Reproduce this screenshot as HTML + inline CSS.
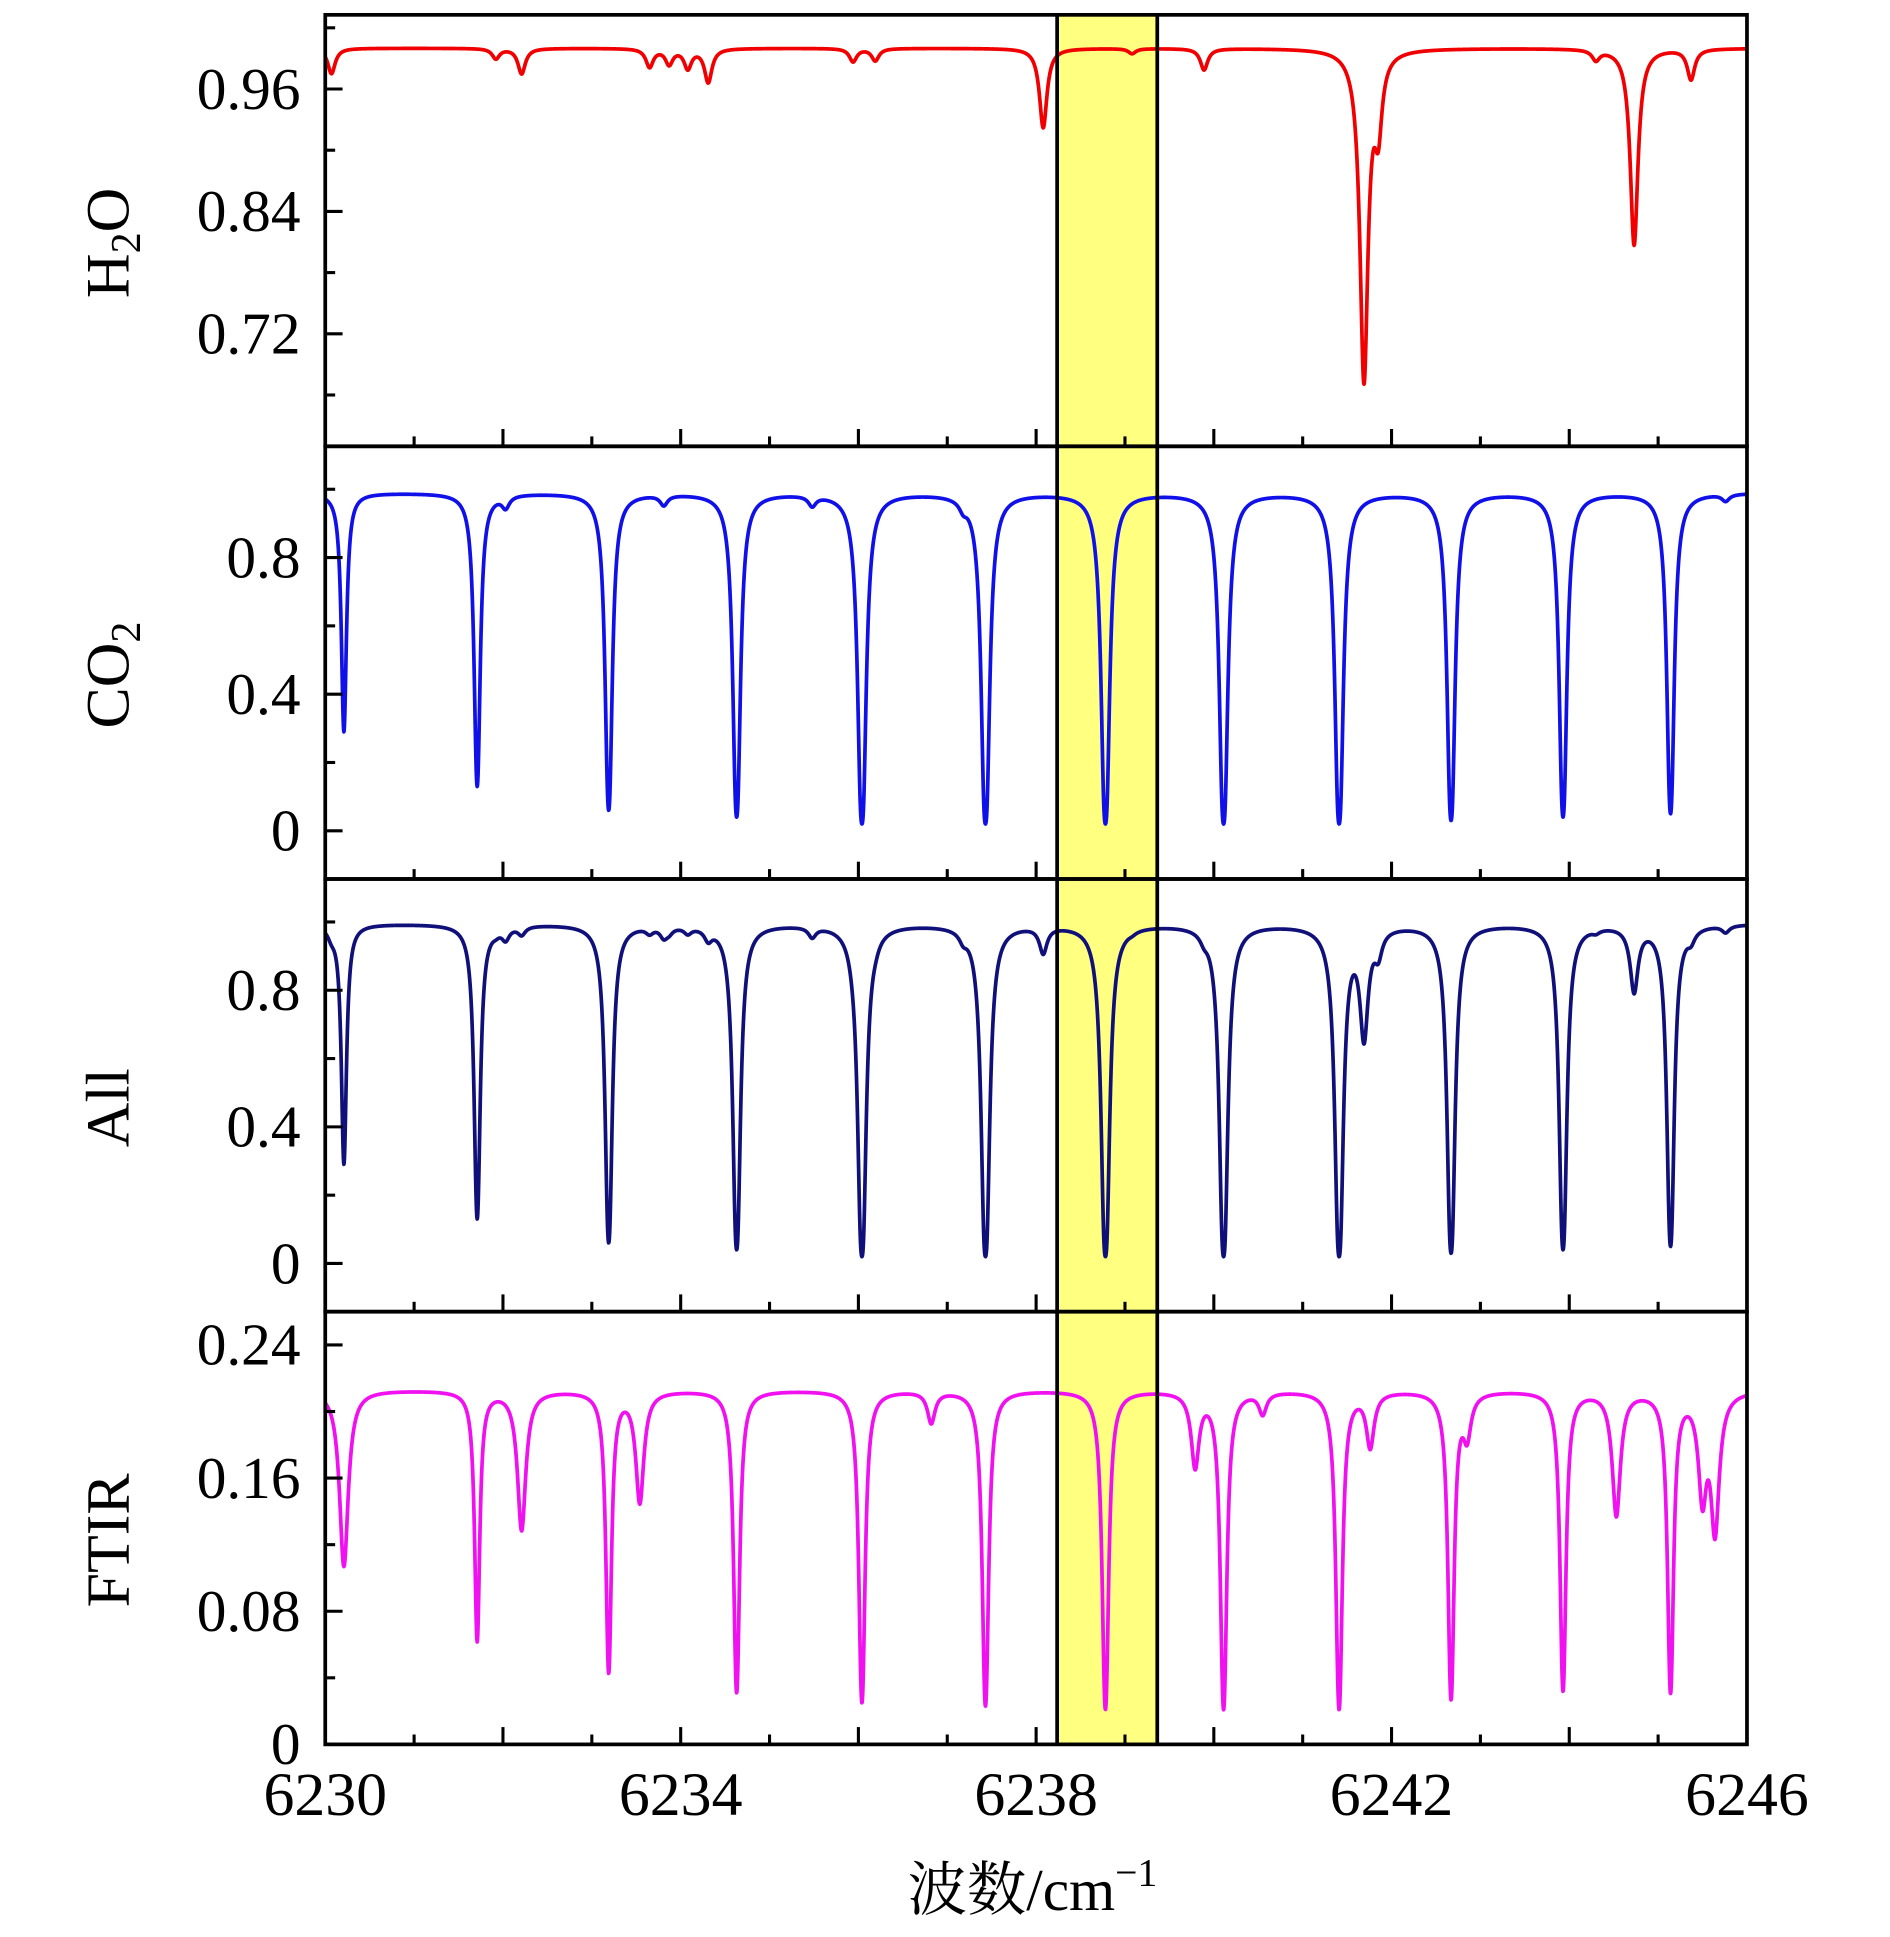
<!DOCTYPE html>
<html><head><meta charset="utf-8">
<style>
html,body{margin:0;padding:0;background:#fff;}
svg{display:block;}
text{font-family:"Liberation Serif","Noto Serif CJK SC",serif;fill:#000;}
</style></head>
<body>
<svg id="chart" width="1890" height="1937" viewBox="0 0 1528.6 1566.8" xmlns="http://www.w3.org/2000/svg">
<defs>
<clipPath id="cp0"><rect x="263" y="12" width="1150" height="349"/></clipPath>
<clipPath id="cp1"><rect x="263" y="361" width="1150" height="350"/></clipPath>
<clipPath id="cp2"><rect x="263" y="711" width="1150" height="350"/></clipPath>
<clipPath id="cp3"><rect x="263" y="1061" width="1150" height="350"/></clipPath>
</defs>
<rect x="855" y="12" width="81" height="1399" fill="#ffff80"/>
<g id="marks"></g>
<g id="axes"></g>
<line x1="855" y1="12" x2="855" y2="1411" stroke="#000" stroke-width="3"/>
<line x1="936" y1="12" x2="936" y2="1411" stroke="#000" stroke-width="3"/>
<text x="835" y="1545" font-size="48" text-anchor="middle">波数/cm<tspan font-size="32" dy="-20">−1</tspan></text>
</svg>
<script>
// ---- data ----
const xTicks = [6230, 6234, 6238, 6242, 6246];
const co2Pos = [6230.21, 6231.71, 6233.19, 6234.63, 6236.04, 6237.43, 6238.78, 6240.11, 6241.41, 6242.67, 6243.93, 6245.14, 6232.03, 6233.81, 6235.48, 6237.18, 6245.76];
const co2Min = [0.29, 0.13, 0.06, 0.04, 0.02, 0.02, 0.02, 0.02, 0.02, 0.03, 0.04, 0.05, 0.955, 0.96, 0.96, 0.965, 0.97];
const co2Base = 0.99;
const h2oPos = [6230.07, 6231.92, 6232.21, 6233.65, 6233.87, 6234.08, 6234.31, 6235.94, 6236.19, 6238.08, 6239.08, 6239.89, 6241.69, 6241.85, 6244.3, 6244.73, 6245.37];
const h2oMin = [0.975, 0.99, 0.975, 0.982, 0.985, 0.981, 0.967, 0.987, 0.988, 0.922, 0.995, 0.979, 0.675, 0.93, 0.99, 0.807, 0.97];
const h2oBase = 1.0;
const ftirPos = [6230.21, 6231.71, 6232.21, 6233.19, 6233.54, 6234.63, 6236.04, 6236.82, 6237.43, 6238.78, 6239.79, 6240.11, 6240.55, 6241.41, 6241.76, 6242.67, 6242.85, 6243.93, 6244.53, 6245.14, 6245.50, 6245.64];
const ftirMin = [0.107, 0.062, 0.129, 0.043, 0.146, 0.031, 0.025, 0.194, 0.023, 0.021, 0.168, 0.021, 0.2, 0.021, 0.18, 0.027, 0.188, 0.032, 0.138, 0.031, 0.15, 0.129];
const ftirBase = 0.213;
const h2oTicks = [0.96, 0.84, 0.72];
const co2Ticks = [0, 0.4, 0.8];
const ftirTicks = [0, 0.08, 0.16, 0.24];

// ---- layout ----
const X0 = 263, X1 = 1413, XMIN = 6230, XMAX = 6246;
const xs = v => X0 + (v - XMIN) / (XMAX - XMIN) * (X1 - X0);
const panels = [
  {top:12, bot:361, y:v=>72 + (0.96 - v) * 825},
  {top:361, bot:711, y:v=>672 - v * 276.25},
  {top:711, bot:1061, y:v=>1022 - v * 276.25},
  {top:1061, bot:1411, y:v=>1411 - v * 1346.25}
];
const NS = 'http://www.w3.org/2000/svg';
const marks = document.getElementById('marks');
const axes = document.getElementById('axes');
function mk(tag, attrs, parent){const e=document.createElementNS(NS,tag);for(const k in attrs)e.setAttribute(k,attrs[k]);parent.appendChild(e);return e;}

function spectrum(pos, mins, base, g){
  return x => {
    let a = 0;
    for (let i=0;i<pos.length;i++){
      const A = Math.log(base / mins[i]);
      const d = x - pos[i];
      const w = mins[i] > 0.5*base ? 0.05 : g;
      a += A * w*w/(d*d + w*w);
    }
    return base * Math.exp(-a);
  };
}
const fH2O = spectrum(h2oPos, h2oMin, h2oBase, 0.05);
const fCO2 = spectrum(co2Pos, co2Min, co2Base, 0.026);
const fAll = x => fH2O(x) * fCO2(x) / 0.995;
const fFTIR = spectrum(ftirPos, ftirMin, ftirBase, 0.026);

function drawLine(f, p, color, name, idx){
  let d = '';
  for (let x = XMIN; x <= XMAX + 1e-9; x += 0.003){
    d += (d ? 'L' : 'M') + xs(x).toFixed(2) + ',' + p.y(f(x)).toFixed(2);
  }
  const el = mk('path', {d:d, fill:'none', stroke:color, 'stroke-width':3, 'stroke-linejoin':'round', 'clip-path':'url(#cp'+idx+')'}, marks);
  
  
}
drawLine(fH2O, panels[0], '#f00000', 'h2o-line', 0);
drawLine(fCO2, panels[1], '#1010e8', 'co2-line', 1);
drawLine(fAll, panels[2], '#10107a', 'all-line', 2);
drawLine(fFTIR, panels[3], '#f010f0', 'ftir-line', 3);

// ---- axes ----
const yMajor = [h2oTicks, co2Ticks, co2Ticks, ftirTicks];
const yMinor = [[0.90,0.78,0.66,1.02],[0.2,0.6,1.0],[0.2,0.6,1.0],[0.04,0.12,0.20]];
const fmt = [v=>v.toFixed(2), v=>v===0?'0':v.toFixed(1), v=>v===0?'0':v.toFixed(1), v=>v===0?'0':v.toFixed(2)];
const titles = ['H2O','CO2','All','FTIR'];
panels.forEach((p,i)=>{
  const fr = mk('rect',{x:X0,y:p.top,width:X1-X0,height:p.bot-p.top,fill:'none',stroke:'#000','stroke-width':3},axes);
  
  
  for (let v = XMIN+1; v < XMAX; v++){
    const len = (v % 2 === 0) ? 14 : 8;
    const t = mk('line',{x1:xs(v),x2:xs(v),y1:p.bot,y2:p.bot-len,stroke:'#000','stroke-width':2.5},axes);
    
    
  }
  yMajor[i].forEach(v=>{
    const yy = p.y(v);
    const t = mk('line',{x1:X0,x2:X0+14,y1:yy,y2:yy,stroke:'#000','stroke-width':2.5},axes);
    
    
    const lb = mk('text',{x:243,y:yy+16,'font-size':48,'text-anchor':'end'},axes);
    lb.textContent = fmt[i](v);
    
    
  });
  yMinor[i].forEach(v=>{
    const yy = p.y(v);
    if (yy <= p.top+2 || yy >= p.bot-2) return;
    const t = mk('line',{x1:X0,x2:X0+8,y1:yy,y2:yy,stroke:'#000','stroke-width':2.5},axes);
    
    
  });
  const cy = (p.top+p.bot)/2 + 10;
  const tt = mk('text',{x:0,y:0,'font-size':50,'text-anchor':'middle',transform:'translate(104,'+cy+') rotate(-90)'},axes);
  
  
  if (titles[i].endsWith('2O')) { tt.innerHTML = 'H<tspan font-size="34" dy="9">2</tspan><tspan dy="-9">O</tspan>'; }
  else if (titles[i]==='CO2') { tt.innerHTML = 'CO<tspan font-size="34" dy="9">2</tspan>'; }
  else tt.textContent = titles[i];
});
xTicks.forEach(v=>{
  const lb = mk('text',{x:xs(v),y:1468,'font-size':50,'text-anchor':'middle'},axes);
  lb.textContent = String(v);
  
  
});
</script>
</body></html>
